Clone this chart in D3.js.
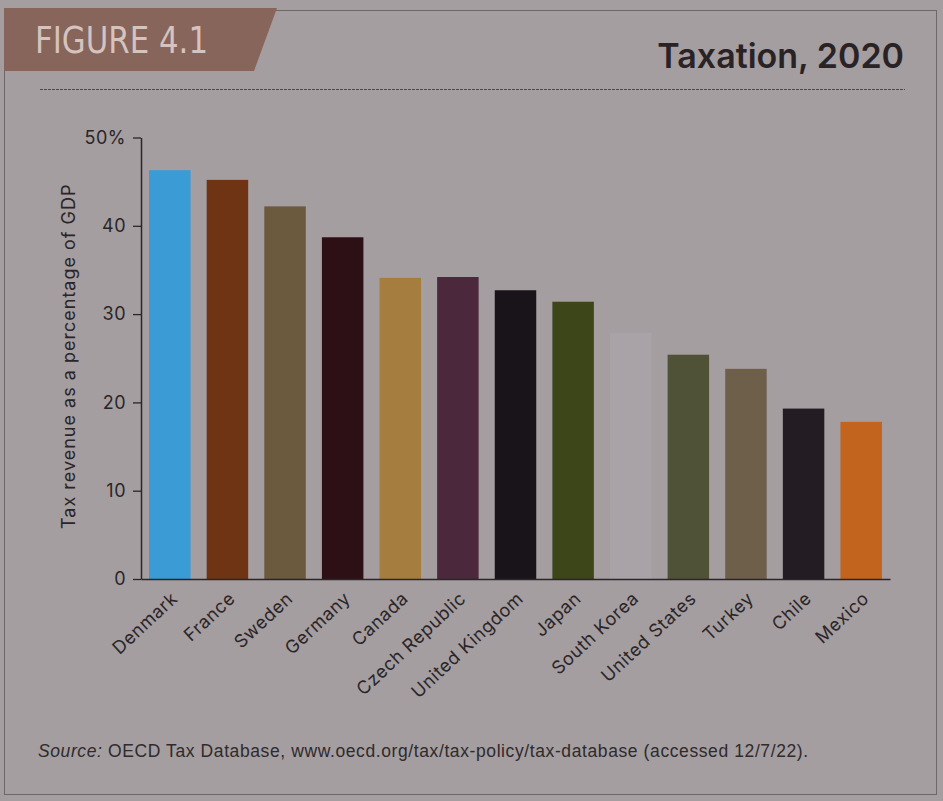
<!DOCTYPE html>
<html>
<head>
<meta charset="utf-8">
<script src="https://cdn.jsdelivr.net/npm/d3@7"></script>
<style>
  html, body { margin: 0; padding: 0; background: #a49ea0; }
  svg { display: block; }
</style>
</head>
<body>
<svg id="chart" width="943" height="801"></svg>
<script>
// Tax revenue as a share of GDP, 2020
const countries = ["Denmark", "France", "Sweden", "Germany", "Canada", "Czech Republic",
  "United Kingdom", "Japan", "South Korea", "United States", "Turkey", "Chile", "Mexico"];
const taxShare = [46.3, 45.2, 42.2, 38.7, 34.1, 34.2, 32.7, 31.4, 27.9, 25.4, 23.8, 19.3, 17.8];
const barColors = ["#3a9bd5", "#6e3414", "#6c5a3e", "#2d1015", "#a57d3e", "#4b283c",
  "#191419", "#3c4619", "#a9a3a8", "#505237", "#6e5f4b", "#231c23", "#c3641e"];
const yTicks = [0, 10, 20, 30, 40, 50];

const data = countries.map((c, i) => ({ country: c, value: taxShare[i], color: barColors[i] }));

const svg = d3.select("#chart");
const W = 943, H = 801;
const font = "Inter, 'Open Sans', sans-serif";
const ink = "#2b2528";

svg.append("rect").attr("width", W).attr("height", H).attr("fill", "#a49ea0");

// outer frame
svg.append("rect")
  .attr("x", 4.5).attr("y", 10.5).attr("width", 932).attr("height", 784)
  .attr("fill", "none").attr("stroke", "#6e6769").attr("stroke-width", 1);

// figure tab
svg.append("path")
  .attr("d", "M4,8 L277,8 L254,71 L4,71 Z")
  .attr("fill", "#87655b");
svg.append("text")
  .attr("x", 35).attr("y", 53)
  .attr("font-family", "'DejaVu Sans Condensed', 'DejaVu Sans', sans-serif")
  .attr("font-size", 38)
  .attr("textLength", 173).attr("lengthAdjust", "spacingAndGlyphs")
  .attr("fill", "#d4c3bf")
  .text("FIGURE 4.1");

// title
svg.append("text")
  .attr("x", 904).attr("y", 68)
  .attr("text-anchor", "end")
  .attr("font-family", font)
  .attr("font-weight", 600)
  .attr("font-size", 34)
  .attr("fill", "#2a2326")
  .text("Taxation, 2020");

// rule under the header
svg.append("line")
  .attr("x1", 40).attr("x2", 905).attr("y1", 89.5).attr("y2", 89.5)
  .attr("stroke", "#4e4749").attr("stroke-width", 1)
  .attr("stroke-dasharray", "3 1");

// scales
const x = d3.scaleBand()
  .domain(countries)
  .range([141, 890])
  .paddingInner(0.28)
  .paddingOuter(0.14);

const y = d3.scaleLinear()
  .domain([0, 50])
  .range([579, 137.5]);

// bars
svg.append("g")
  .selectAll("rect")
  .data(data)
  .join("rect")
  .attr("x", d => x(d.country))
  .attr("y", d => y(d.value))
  .attr("width", x.bandwidth())
  .attr("height", d => y(0) - y(d.value))
  .attr("fill", d => d.color);

// y axis
const yAxis = d3.axisLeft(y)
  .tickValues(yTicks)
  .tickSize(8)
  .tickSizeOuter(0)
  .tickPadding(7)
  .tickFormat(d => d === 50 ? "50%" : d);

const gy = svg.append("g")
  .attr("transform", "translate(141,0)")
  .call(yAxis);
gy.select(".domain").attr("stroke", ink).attr("stroke-width", 1.5);
gy.selectAll(".tick line").attr("stroke", ink).attr("stroke-width", 1.3);
gy.selectAll(".tick text")
  .attr("fill", ink)
  .attr("font-family", font)
  .attr("font-size", 18)
  .attr("letter-spacing", 0.5);

// x axis
const xAxis = d3.axisBottom(x).tickSize(0).tickSizeOuter(0).tickPadding(0);
const gx = svg.append("g")
  .attr("transform", `translate(0,${y(0)})`)
  .call(xAxis);
gx.select(".domain").attr("stroke", ink).attr("stroke-width", 1.5);
gx.selectAll(".tick text")
  .attr("fill", ink)
  .attr("font-family", font)
  .attr("font-size", 18)
  .attr("letter-spacing", 0.6)
  .attr("text-anchor", "end")
  .attr("dy", 0)
  .attr("y", 0)
  .attr("transform", "translate(9,21) rotate(-43)");

// y axis title
svg.append("text")
  .attr("transform", `translate(75,${(y(0) + y(50)) / 2 - 2}) rotate(-90)`)
  .attr("text-anchor", "middle")
  .attr("font-family", font)
  .attr("font-size", 18)
  .attr("letter-spacing", 1)
  .attr("fill", ink)
  .text("Tax revenue as a percentage of GDP");

// source note
const src = svg.append("text")
  .attr("x", 38).attr("y", 757)
  .attr("font-family", "'Liberation Sans', Arial, sans-serif")
  .attr("font-size", 17.5)
  .attr("letter-spacing", 0.6)
  .attr("fill", "#2f2a2c");
src.append("tspan").attr("font-style", "italic").text("Source:");
src.append("tspan").text(" OECD Tax Database, www.oecd.org/tax/tax-policy/tax-database (accessed 12/7/22).");
</script>
</body>
</html>
